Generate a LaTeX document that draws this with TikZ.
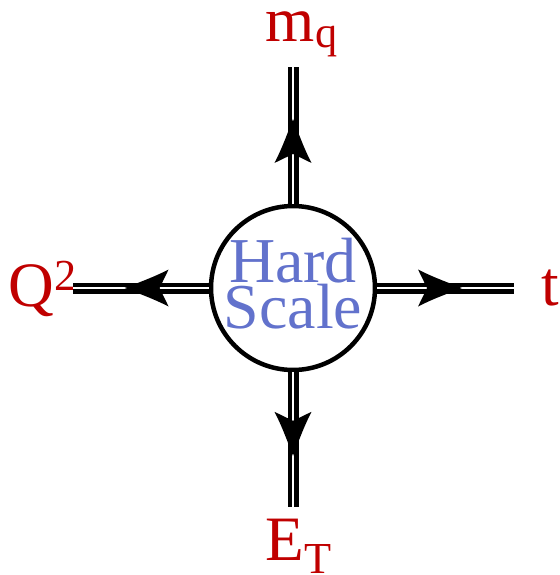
\documentclass[tikz,border=0pt]{standalone}
\usepackage{fontspec}
\setmainfont{Liberation Serif}
\usetikzlibrary{decorations.markings}
\definecolor{labelred}{RGB}{192,0,0}
\definecolor{scaleblue}{RGB}{98,114,204}
\tikzset{
  leg/.style={double, line width=0.085cm, double distance=0.05cm},
  flow/.style={postaction={decorate}, decoration={markings,
    mark=at position 0.62 with {\fill[draw=none] (0,0)
      .. controls (-0.2cm,0.08cm) and (-0.55cm,0.2cm) .. (-0.88cm,0.37cm)
      .. controls (-0.78cm,0.2cm) .. (-0.7cm,0)
      .. controls (-0.78cm,-0.2cm) .. (-0.88cm,-0.37cm)
      .. controls (-0.55cm,-0.2cm) and (-0.2cm,-0.08cm) .. (0,0) -- cycle;}}},
  ext/.style={text=labelred, font=\fontsize{36}{40}\selectfont, inner sep=0pt, anchor=base}
}
\begin{document}
\begin{tikzpicture}[x=0.02cm, y=-0.02cm]
\useasboundingbox (0,0) rectangle (560,575);
% central blob
\node[circle, draw, line width=0.09cm, minimum size=3.28cm, inner sep=-0.2cm,
  text depth=0.18cm, align=center, text=scaleblue,
  font=\fontsize{36.4}{26.2}\selectfont]
  (hard) at (293,288) {Hard\\Scale};
% outer labels
\node[ext] (mq) at (302,41) {$\mathrm{m_q}$};
\node[ext] (Q2) at (43,306) {$\mathrm{Q^2}$};
\node[ext] (t) at (550,305) {t};
\node[ext] (ET) at (299,560) {$\mathrm{E_T}$};
% free ends of the legs
\coordinate (topend) at (293,67);
\coordinate (leftend) at (73,288);
\coordinate (rightend) at (514,288);
\coordinate (botend) at (293,507);
\draw[leg, flow] (hard.north) -- (topend);
\draw[leg, flow] (hard.west) -- (leftend);
\draw[leg, flow] (hard.east) -- (rightend);
\draw[leg, flow] (hard.south) -- (botend);
\end{tikzpicture}
\end{document}
